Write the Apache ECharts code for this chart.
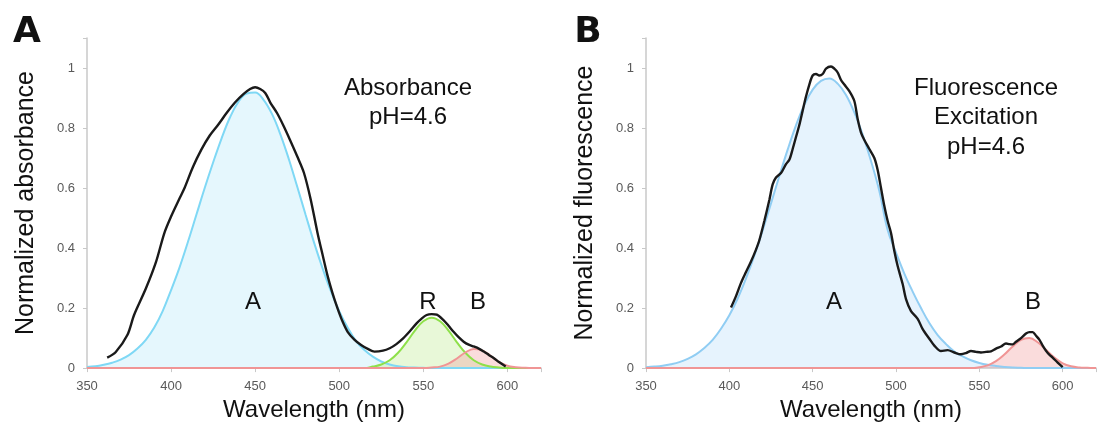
<!DOCTYPE html>
<html><head><meta charset="utf-8">
<script src="https://cdn.jsdelivr.net/npm/echarts@6/dist/echarts.min.js"></script>
<style>html,body{margin:0;padding:0;background:#fff}#c{width:1099px;height:427px}</style>
</head><body><div id="c"></div>
<script>
// ---- data ----
const fitWavelengths = [350,355,360,365,370,375,380,385,390,395,400,405,410,415,420,425,430,435,440,445,450,455,460,465,470,475,480,485,490,495,500,505,510,515,520,525,530,535,540,545,550,555,560,565,570,575,580,585,590,595,600,605,610,615,620];
// Panel A: absorbance, fitted components
const absFitA = [0.004,0.006,0.011,0.018,0.028,0.043,0.065,0.094,0.135,0.19,0.26,0.335,0.42,0.51,0.60,0.685,0.765,0.835,0.887,0.915,0.918,0.894,0.847,0.779,0.697,0.605,0.511,0.419,0.334,0.257,0.19,0.135,0.09,0.06,0.038,0.022,0.012,0.006,0.003,0.002,0.001,0,0,0,0,0,0,0,0,0,0,0,0,0,0];
const absFitR = [0,0,0,0,0,0,0,0,0,0,0,0,0,0,0,0,0,0,0,0,0,0,0,0,0,0,0,0,0,0,0,0,0,0,0.005,0.012,0.026,0.051,0.086,0.125,0.156,0.168,0.156,0.125,0.086,0.051,0.026,0.012,0.005,0.002,0,0,0,0,0];
const absFitB = [0,0,0,0,0,0,0,0,0,0,0,0,0,0,0,0,0,0,0,0,0,0,0,0,0,0,0,0,0,0,0,0,0,0,0,0,0,0,0,0,0,0.002,0.005,0.015,0.032,0.052,0.064,0.059,0.041,0.021,0.008,0.003,0.001,0,0];
const absMeasuredX = [362,367,374,378,385,391,396,400,405,408,413,418,423,428,433,438,443,447,450,453,456,459,463,467,471,475,479,483,487,490,493,496,499,502,505,509,513,517,521,526,530,534,538,542,546,549,552,555,558,562,565,568,571,574,577,580,583,586,589,592,595,599];
const absMeasuredY = [0.035,0.053,0.11,0.177,0.265,0.353,0.45,0.505,0.565,0.6,0.67,0.728,0.775,0.811,0.85,0.885,0.913,0.93,0.936,0.93,0.917,0.885,0.85,0.806,0.757,0.706,0.651,0.563,0.453,0.38,0.309,0.25,0.199,0.155,0.121,0.095,0.077,0.064,0.055,0.058,0.066,0.08,0.099,0.123,0.149,0.165,0.177,0.18,0.178,0.16,0.141,0.121,0.103,0.088,0.078,0.072,0.065,0.055,0.044,0.033,0.02,0.005];
// Panel B: fluorescence excitation, fitted components
const fluFitA = [0.003,0.005,0.008,0.013,0.02,0.031,0.046,0.067,0.094,0.131,0.176,0.232,0.299,0.375,0.459,0.549,0.64,0.728,0.809,0.877,0.928,0.957,0.965,0.948,0.91,0.852,0.778,0.69,0.59,0.46,0.385,0.315,0.255,0.2,0.15,0.11,0.08,0.055,0.039,0.026,0.017,0.011,0.007,0.004,0.002,0.001,0,0,0,0,0,0,0,0,0];
const fluFitB = [0,0,0,0,0,0,0,0,0,0,0,0,0,0,0,0,0,0,0,0,0,0,0,0,0,0,0,0,0,0,0,0,0,0,0,0,0,0,0,0,0.003,0.009,0.023,0.045,0.072,0.094,0.1,0.086,0.061,0.035,0.016,0.006,0.002,0.001,0];
const fluMeasuredX = [401,404,407,410,413,416,418,421,424,426,428,431,434,436,438,440,442,444,446,448,450,452,454,456,458,461,463,465,467,469,472,475,477,479,481,484,487,489,491,493,495,497,499,501,504,506,509,513,516,520,523,527,531,535,539,542,545,548,551,554,557,560,563,566,568,570,572,575,578,580,582,584,586,588,590,592,594,597,600];
const fluMeasuredY = [0.202,0.24,0.284,0.32,0.355,0.395,0.426,0.49,0.56,0.612,0.635,0.65,0.68,0.694,0.73,0.77,0.81,0.858,0.905,0.945,0.975,0.98,0.975,0.98,0.998,1.005,0.998,0.985,0.96,0.945,0.923,0.89,0.83,0.785,0.76,0.73,0.70,0.66,0.6,0.54,0.49,0.45,0.39,0.34,0.28,0.23,0.19,0.164,0.13,0.098,0.075,0.057,0.06,0.052,0.046,0.05,0.057,0.054,0.052,0.054,0.056,0.065,0.072,0.082,0.08,0.079,0.088,0.1,0.115,0.12,0.12,0.108,0.095,0.075,0.058,0.045,0.035,0.018,0.003];
const xTickValues = [350,400,450,500,550,600];
const yTickValues = [0,0.2,0.4,0.6,0.8,1];

// ---- build ----
const pairs = (xs, ys) => xs.map((x, i) => [x, ys[i]]);
const chart = echarts.init(document.getElementById('c'), null, {renderer: 'canvas'});
const FONT = 'Liberation Sans, Arial, Helvetica, sans-serif';

function xAxis(gridIndex) {
  return {
    type: 'value', gridIndex, min: 350, max: 620, interval: 50,
    axisLine: {show: true, lineStyle: {color: '#c8c8c8', width: 1.5}},
    axisTick: {show: true, length: 4, lineStyle: {color: '#c8c8c8'}},
    axisLabel: {color: '#5a5a5a', fontSize: 13, fontFamily: FONT, margin: 12,
      formatter: v => xTickValues.includes(v) ? String(v) : ''},
    splitLine: {show: false},
    name: 'Wavelength (nm)', nameLocation: 'middle', nameGap: 26,
    nameTextStyle: {color: '#111', fontSize: 24, fontFamily: FONT}
  };
}
function yAxis(gridIndex, name) {
  return {
    type: 'value', gridIndex, min: 0, max: 1.1, interval: 0.2,
    axisLine: {show: true, lineStyle: {color: '#c8c8c8', width: 1.5}},
    axisTick: {show: true, length: 4, lineStyle: {color: '#c8c8c8'}},
    axisLabel: {color: '#5a5a5a', fontSize: 13, fontFamily: FONT, margin: 12,
      formatter: v => { const r = Math.round(v * 10) / 10; return yTickValues.includes(r) && Math.abs(r - v) < 1e-6 ? String(r) : ''; }},
    splitLine: {show: false},
    name, nameLocation: 'middle', nameGap: 48,
    nameTextStyle: {color: '#111', fontSize: 25, fontFamily: FONT}
  };
}
function fit(idx, ys, line, fill) {
  return {type: 'line', xAxisIndex: idx, yAxisIndex: idx, data: pairs(fitWavelengths, ys),
    smooth: 0.4, symbol: 'none', lineStyle: {color: line, width: 2}, areaStyle: {color: fill, origin: 0}, z: 2, silent: true};
}
function measured(idx, xs, ys) {
  return {type: 'line', xAxisIndex: idx, yAxisIndex: idx, data: pairs(xs, ys),
    smooth: 0.3, symbol: 'none', lineStyle: {color: '#1a1a1a', width: 2.4}, z: 5, silent: true};
}
function txt(x, y, text, size, bold, family) {
  return {type: 'text', x, y, z: 100, style: {text, fill: '#111', font: (bold ? 'bold ' : '') + size + 'px ' + (family || FONT), textAlign: 'center', textVerticalAlign: 'middle'}};
}

chart.setOption({
  animation: false,
  grid: [
    {left: 87, top: 38, width: 454, height: 333},
    {left: 646, top: 38, width: 459, height: 333}
  ],
  xAxis: [xAxis(0), xAxis(1)],
  yAxis: [yAxis(0, 'Normalized absorbance'), yAxis(1, 'Normalized fluorescence')],
  series: [
    fit(0, absFitA, '#7fd8f5', 'rgba(180,232,248,0.5)'),
    fit(0, absFitR, '#8ee04a', 'rgba(190,236,145,0.5)'),
    fit(0, absFitB, '#f09595', 'rgba(240,155,155,0.5)'),
    measured(0, absMeasuredX, absMeasuredY),
    fit(1, fluFitA, '#90cdf3', 'rgba(185,220,248,0.5)'),
    fit(1, fluFitB, '#f09595', 'rgba(240,155,155,0.5)'),
    measured(1, fluMeasuredX, fluMeasuredY)
  ],
  graphic: [
    txt(27, 33, 'A', 36, true, 'DejaVu Sans'),
    txt(588, 33, 'B', 36, true, 'DejaVu Sans'),
    txt(408, 88, 'Absorbance', 24),
    txt(408, 117, 'pH=4.6', 24),
    txt(986, 88, 'Fluorescence', 24),
    txt(986, 117, 'Excitation', 24),
    txt(986, 147, 'pH=4.6', 24),
    txt(253, 302, 'A', 24),
    txt(428, 302, 'R', 24),
    txt(478, 302, 'B', 24),
    txt(834, 302, 'A', 24),
    txt(1033, 302, 'B', 24)
  ]
});
</script></body></html>
